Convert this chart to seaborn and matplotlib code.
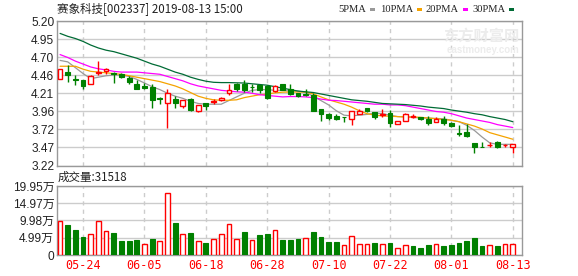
import matplotlib
matplotlib.use("Agg")
import matplotlib.pyplot as plt
import seaborn as sns
from matplotlib.patches import Rectangle

# ---------------- data ----------------
title = "赛象科技[002337] 2019-08-13 15:00"
dates = ["05-21", "05-22", "05-23", "05-24", "05-27", "05-28", "05-29", "05-30", "05-31",
         "06-03", "06-04", "06-05", "06-06", "06-10", "06-11", "06-12", "06-13", "06-14",
         "06-17", "06-18", "06-19", "06-20", "06-21", "06-24", "06-25", "06-26", "06-27",
         "06-28", "07-01", "07-02", "07-03", "07-04", "07-05", "07-08", "07-09", "07-10",
         "07-11", "07-12", "07-15", "07-16", "07-17", "07-18", "07-19", "07-22", "07-23",
         "07-24", "07-25", "07-26", "07-29", "07-30", "07-31", "08-01", "08-02", "08-05",
         "08-06", "08-07", "08-08", "08-09", "08-12", "08-13"]
opens = [4.41, 4.50, 4.40, 4.387, 4.342, 4.49, 4.51, 4.49, 4.478, 4.42,
         4.33, 4.305, 4.296, 4.14, 4.07, 4.137, 4.036, 4.137, 3.968, 4.083,
         4.095, 4.118, 4.21, 4.337, 4.33, 4.30, 4.328, 4.305, 4.24, 4.33,
         4.274, 4.214, 4.20, 4.19, 3.99, 3.932, 3.90, 3.885, 3.864, 3.932,
         4.009, 3.954, 3.918, 3.94, 3.782, 3.831, 3.89, 3.886, 3.864, 3.818,
         3.854, 3.804, 3.665, 3.68, 3.522, 3.476, 3.495, 3.536, 3.495, 3.476]
highs = [4.54, 4.60, 4.465, 4.39, 4.465, 4.65, 4.56, 4.50, 4.49, 4.446,
         4.387, 4.356, 4.342, 4.16, 4.274, 4.173, 4.114, 4.15, 4.046, 4.083,
         4.128, 4.16, 4.33, 4.35, 4.387, 4.342, 4.328, 4.32, 4.32, 4.33,
         4.33, 4.214, 4.274, 4.219, 3.99, 3.946, 3.92, 3.89, 3.964, 4.0,
         4.009, 3.954, 3.991, 3.977, 3.836, 3.946, 3.932, 3.886, 3.895, 3.88,
         3.895, 3.82, 3.772, 3.795, 3.53, 3.544, 3.536, 3.554, 3.513, 3.508]
lows = [4.41, 4.36, 4.32, 4.264, 4.33, 4.465, 4.48, 4.35, 4.42, 4.33,
        4.27, 4.264, 4.014, 4.056, 3.736, 4.009, 4.009, 3.968, 3.954, 3.987,
        4.06, 4.11, 4.186, 4.237, 4.227, 4.227, 4.214, 4.137, 4.225, 4.25,
        4.19, 4.16, 4.169, 3.964, 3.831, 3.84, 3.85, 3.818, 3.77, 3.925,
        3.95, 3.86, 3.886, 3.75, 3.782, 3.831, 3.872, 3.845, 3.772, 3.818,
        3.772, 3.75, 3.626, 3.613, 3.394, 3.47, 3.468, 3.454, 3.468, 3.386]
closes = [4.54, 4.465, 4.39, 4.31, 4.446, 4.50, 4.547, 4.478, 4.43, 4.364,
          4.27, 4.282, 4.124, 4.13, 4.219, 4.083, 4.114, 3.987, 4.046, 4.04,
          4.10, 4.15, 4.255, 4.265, 4.258, 4.29, 4.26, 4.15, 4.305, 4.26,
          4.196, 4.173, 4.19, 3.964, 3.923, 3.87, 3.864, 3.88, 3.96, 3.965,
          3.968, 3.886, 3.925, 3.80, 3.836, 3.923, 3.895, 3.854, 3.809, 3.864,
          3.809, 3.763, 3.655, 3.626, 3.476, 3.47, 3.50, 3.476, 3.499, 3.508]
ma5 = [4.66, 4.64, 4.56, 4.48, 4.41, 4.43, 4.45, 4.46, 4.46, 4.44,
       4.40, 4.35, 4.30, 4.26, 4.21, 4.17, 4.14, 4.10, 4.07, 4.06,
       4.06, 4.06, 4.11, 4.16, 4.21, 4.25, 4.26, 4.26, 4.25, 4.25,
       4.24, 4.24, 4.22, 4.17, 4.11, 4.05, 3.97, 3.91, 3.90, 3.91,
       3.92, 3.94, 3.93, 3.91, 3.89, 3.886, 3.88, 3.87, 3.87, 3.865,
       3.86, 3.84, 3.82, 3.77, 3.70, 3.61, 3.53, 3.51, 3.51, 3.51]
ma10 = [4.58, 4.58, 4.58, 4.54, 4.51, 4.50, 4.49, 4.48, 4.47, 4.45,
        4.43, 4.41, 4.39, 4.37, 4.34, 4.31, 4.27, 4.22, 4.17, 4.14,
        4.12, 4.114, 4.114, 4.12, 4.15, 4.17, 4.19, 4.20, 4.215, 4.225,
        4.227, 4.227, 4.227, 4.20, 4.16, 4.12, 4.09, 4.06, 4.02, 3.97,
        3.93, 3.91, 3.90, 3.895, 3.89, 3.886, 3.886, 3.88, 3.87, 3.86,
        3.85, 3.84, 3.82, 3.79, 3.76, 3.72, 3.67, 3.64, 3.61, 3.58]
ma20 = [4.74, 4.70, 4.65, 4.61, 4.57, 4.545, 4.53, 4.51, 4.50, 4.50,
        4.50, 4.49, 4.48, 4.47, 4.44, 4.41, 4.38, 4.34, 4.31, 4.29,
        4.27, 4.25, 4.24, 4.23, 4.225, 4.21, 4.19, 4.18, 4.17, 4.16,
        4.165, 4.165, 4.16, 4.15, 4.13, 4.115, 4.11, 4.10, 4.09, 4.08,
        4.07, 4.06, 4.06, 4.05, 4.05, 4.04, 4.02, 4.00, 3.98, 3.96,
        3.95, 3.93, 3.90, 3.87, 3.85, 3.83, 3.81, 3.78, 3.76, 3.74]
ma30 = [5.03, 4.99, 4.96, 4.92, 4.87, 4.83, 4.80, 4.78, 4.75, 4.72,
        4.69, 4.65, 4.61, 4.58, 4.54, 4.50, 4.47, 4.43, 4.40, 4.375,
        4.36, 4.356, 4.356, 4.353, 4.35, 4.34, 4.33, 4.32, 4.30, 4.28,
        4.26, 4.24, 4.23, 4.22, 4.20, 4.18, 4.16, 4.14, 4.12, 4.11,
        4.10, 4.085, 4.07, 4.065, 4.06, 4.055, 4.045, 4.035, 4.02, 4.01,
        4.0, 3.98, 3.965, 3.95, 3.93, 3.915, 3.89, 3.87, 3.85, 3.82]
volumes = [9.97, 8.55, 7.12, 5.22, 6.17, 9.97, 6.84, 6.36, 4.08, 4.08,
           4.27, 3.32, 4.75, 3.99, 18.04, 9.21, 6.17, 6.36, 3.99, 3.51,
           4.75, 6.17, 9.02, 4.75, 6.55, 4.27, 5.70, 5.98, 7.31, 4.27,
           4.27, 4.56, 5.03, 6.55, 5.13, 3.70, 3.70, 2.75, 5.60, 3.13,
           3.13, 3.42, 3.13, 3.42, 1.90, 2.85, 2.56, 1.99, 2.85, 3.13,
           2.56, 2.85, 3.42, 3.99, 4.84, 2.56, 2.85, 2.56, 3.13, 3.1518]
last_volume = "31518"
price_ticks = [3.22, 3.47, 3.72, 3.96, 4.21, 4.46, 4.70, 4.95, 5.20]
price_tick_labels = ["3.22", "3.47", "3.72", "3.96", "4.21", "4.46", "4.70", "4.95", "5.20"]
vol_ticks = [0, 4.99, 9.98, 14.97, 19.95]
vol_tick_labels = ["0", "4.99万", "9.98万", "14.97万", "19.95万"]
date_tick_labels = ["05-24", "06-05", "06-18", "06-28", "07-10", "07-22", "08-01", "08-13"]
ma_names = ["5PMA", "10PMA", "20PMA", "30PMA"]

# ---------------- style ----------------
sns.set_style("white")
plt.rcParams["font.family"] = ["Liberation Sans", "Noto Sans CJK SC", "DejaVu Sans"]

RED = "#ff0000"
GREEN = "#008000"
MA_COLORS = ["#999999", "#f5a300", "#ff00ff", "#006b35"]
GRID = "#cccccc"
FRAME = "#999999"

W, H = 578, 276
fig = plt.figure(figsize=(W / 100, H / 100), dpi=100)
fig.patch.set_facecolor("white")


def box(l, t, r, b):
    return [l / W, 1 - b / H, (r - l) / W, (b - t) / H]


ax = fig.add_axes(box(57, 21, 522, 165.5))
axv = fig.add_axes(box(57, 186, 522, 255))

idx = list(range(len(dates)))
xt = [dates.index(d) for d in date_tick_labels]
xlim = (-0.4, 60.2)

# ---------------- price panel ----------------
for a in (ax, axv):
    a.set_facecolor("white")
    for s in a.spines.values():
        s.set_color(FRAME)
        s.set_linewidth(1)
    for x in xt:
        a.axvline(x, color=GRID, lw=1, ls=(0, (3, 3)), zorder=0)
    a.set_xlim(*xlim)
    a.tick_params(length=0)

for y in price_ticks:
    ax.axhline(y, color=GRID, lw=1, zorder=0)
ax.set_ylim(price_ticks[0], price_ticks[-1])
ax.set_yticks(price_ticks)
ax.set_yticklabels(price_tick_labels, fontsize=8.6, color="#222222")
ax.tick_params(axis="y", pad=2)
ax.set_xticks([])

# watermark
ax.text(0.995, 0.90, "东方财富网", transform=ax.transAxes, ha="right", va="center",
        fontsize=11, color="#ececec", family=["Noto Sans CJK SC"], fontweight="bold", zorder=1)
ax.text(0.995, 0.80, "eastmoney.com", transform=ax.transAxes, ha="right", va="center",
        fontsize=7, color="#ececec", fontweight="bold", zorder=1)

for name, ma, col in zip(ma_names, [ma5, ma10, ma20, ma30], MA_COLORS):
    sns.lineplot(x=idx, y=ma, ax=ax, color=col, lw=0.9, zorder=2, legend=False)

bw = 0.62
for i in idx:
    o, h, l, c = opens[i], highs[i], lows[i], closes[i]
    if c >= o:
        ax.vlines(i, l, o, color=RED, lw=1, zorder=3)
        ax.vlines(i, c, h, color=RED, lw=1, zorder=3)
        ax.bar(i, max(c - o, 0.0005), bottom=o, width=bw, facecolor="white",
               edgecolor=RED, lw=1, zorder=4)
    else:
        ax.vlines(i, l, h, color=GREEN, lw=1, zorder=3)
        ax.bar(i, o - c, bottom=c, width=bw, facecolor=GREEN,
               edgecolor=GREEN, lw=0.8, zorder=4)

# ---------------- volume panel ----------------
for y in vol_ticks:
    axv.axhline(y, color=GRID, lw=1, zorder=0)
axv.set_ylim(vol_ticks[0], vol_ticks[-1])
axv.set_yticks(vol_ticks)
axv.set_yticklabels(vol_tick_labels, fontsize=8.6, color="#222222",
                    family=["Liberation Sans", "Noto Sans CJK SC"])
axv.tick_params(axis="y", pad=2)
axv.set_xticks(xt)
axv.set_xticklabels(date_tick_labels, fontsize=8.5, color=RED, family=["DejaVu Sans Mono"])
axv.tick_params(axis="x", pad=3)

for i in idx:
    prev_c = closes[i - 1] if i > 0 else opens[i]
    up = closes[i] >= prev_c
    if up:
        axv.bar(i, volumes[i], width=bw, facecolor="white", edgecolor=RED, lw=1, zorder=3)
    else:
        axv.bar(i, volumes[i], width=bw, facecolor=GREEN, edgecolor=GREEN, lw=0.8, zorder=3)

# ---------------- texts ----------------
fig.text(57 / W, 1 - 9 / H, title, ha="left", va="center", fontsize=8.3, color="#222222",
         family=["Noto Sans CJK SC", "DejaVu Sans"])
fig.text(58 / W, 1 - 177 / H, "成交量:" + last_volume, ha="left", va="center", fontsize=8.3,
         color="#222222", family=["Noto Sans CJK SC", "DejaVu Sans"])

legend_x = [338, 380, 426, 472]
for name, col, lx in zip(ma_names, MA_COLORS, legend_x):
    t = fig.text(lx / W, 1 - 9 / H, name, ha="left", va="center", fontsize=7.6,
                 color="#222222", family=["Liberation Serif"])
    fig.canvas.draw()
    bb = t.get_window_extent()
    rx = bb.x1 + 4
    fig.patches.append(Rectangle((rx / W, 1 - 11 / H), 5 / W, 3 / H,
                                 transform=fig.transFigure, facecolor=col, edgecolor="none"))

fig.savefig("out.png", dpi=100, facecolor="white")
